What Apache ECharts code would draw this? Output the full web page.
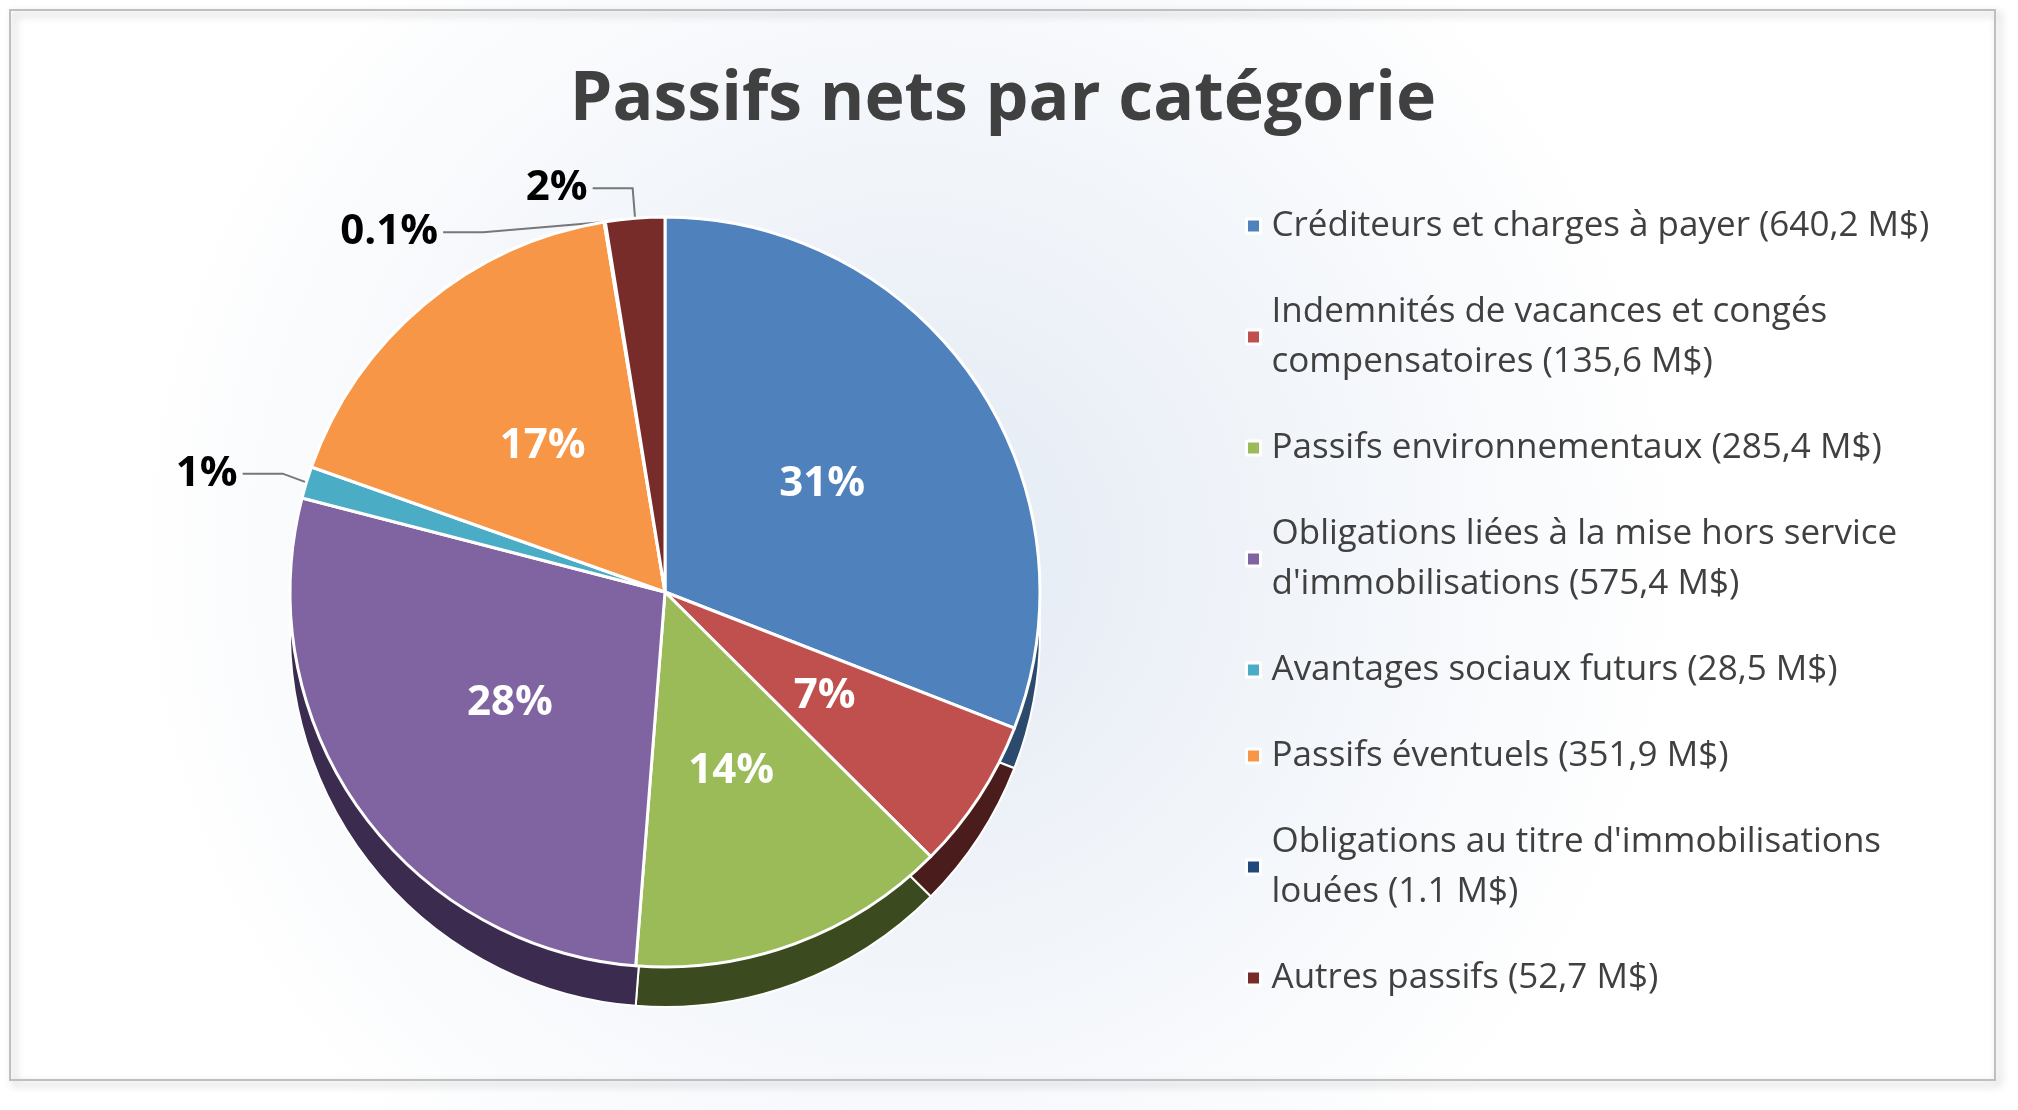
<!DOCTYPE html>
<html>
<head>
<meta charset="utf-8">
<script src="https://cdn.jsdelivr.net/npm/echarts@6/dist/echarts.min.js"></script>
<style>html,body{margin:0;padding:0;background:#fff}#main{width:2018px;height:1110px}</style>
</head>
<body>
<div id="main"></div>
<script>
// données du graphique
const categories = [
  "Créditeurs et charges à payer (640,2 M$)",
  "Indemnités de vacances et congés\ncompensatoires (135,6 M$)",
  "Passifs environnementaux (285,4 M$)",
  "Obligations liées à la mise hors service\nd'immobilisations (575,4 M$)",
  "Avantages sociaux futurs (28,5 M$)",
  "Passifs éventuels (351,9 M$)",
  "Obligations au titre d'immobilisations\nlouées (1.1 M$)",
  "Autres passifs (52,7 M$)"
];
const values = [640.2, 135.6, 285.4, 575.4, 28.5, 351.9, 1.1, 52.7];
const pctLabels = ["31%", "7%", "14%", "28%", "1%", "17%", "0.1%", "2%"];
const colors = ["#4F81BD", "#C0504D", "#9BBB59", "#8064A2", "#4BACC6", "#F79646", "#1F497D", "#772C2A"];
const sideColors = ["#2c4a6e", "#4a1d1c", "#3c4a1f", "#3b2b4f", "#23606e", "#8a4e1f", "#0f2540", "#3d1515"];
const outside = [false, false, false, false, true, false, true, true];

let chart = echarts.init(document.getElementById('main'));

let topData = [];
let sideData = [];
for (let i = 0; i < values.length; i++) {
  topData.push({
    name: categories[i],
    value: values[i],
    itemStyle: { color: colors[i] },
    label: outside[i]
      ? { show: true, position: 'outside', color: '#000', fontSize: 42 }
      : { show: true, position: 'inner', color: '#fff', fontSize: 42 },
    labelLine: { show: outside[i], length: 30, length2: 40, lineStyle: { color: '#777', width: 2 } }
  });
  sideData.push({ name: categories[i] + ' ', value: values[i], itemStyle: { color: sideColors[i] } });
}

let option = {
  animation: false,
  backgroundColor: {
    type: 'radial', x: 0.45, y: 0.5, r: 0.7,
    colorStops: [{ offset: 0, color: '#e3eaf4' }, { offset: 1, color: '#ffffff' }]
  },
  color: colors,
  title: {
    text: 'Passifs nets par catégorie',
    left: 998, top: 62, textAlign: 'center',
    textStyle: { fontFamily: 'Open Sans', fontWeight: 'bold', fontSize: 68, color: '#404040' }
  },
  legend: {
    orient: 'vertical',
    left: 1240, top: 196,
    itemWidth: 14, itemHeight: 14, itemGap: 36,
    icon: 'rect',
    itemStyle: { borderColor: '#fff', borderWidth: 3 },
    data: categories,
    textStyle: { fontFamily: 'Open Sans', fontSize: 35, color: '#404040', lineHeight: 50, padding: [0, 0, 0, 6] }
  },
  graphic: [{
    type: 'rect', shape: { x: 10, y: 10, width: 1985, height: 1070 },
    style: { fill: 'none', stroke: '#bfbfbf', lineWidth: 2, shadowBlur: 8, shadowColor: 'rgba(0,0,0,0.3)', shadowOffsetX: 4, shadowOffsetY: 4 },
    silent: true, z: -1
  }],
  series: [
    {
      type: 'pie', silent: true, z: 1,
      center: [665, 632], radius: 375, startAngle: 90, clockwise: true,
      label: { show: false }, labelLine: { show: false },
      itemStyle: { borderColor: '#fff', borderWidth: 2 },
      data: sideData
    },
    {
      type: 'pie', z: 2,
      center: [665, 592], radius: 375, startAngle: 90, clockwise: true,
      itemStyle: { borderColor: '#fff', borderWidth: 3 },
      label: {
        fontFamily: 'Open Sans', fontWeight: 'bold',
        formatter: function (p) { return pctLabels[p.dataIndex]; }
      },
      data: topData
    }
  ]
};
chart.setOption(option);
</script>
</body>
</html>
